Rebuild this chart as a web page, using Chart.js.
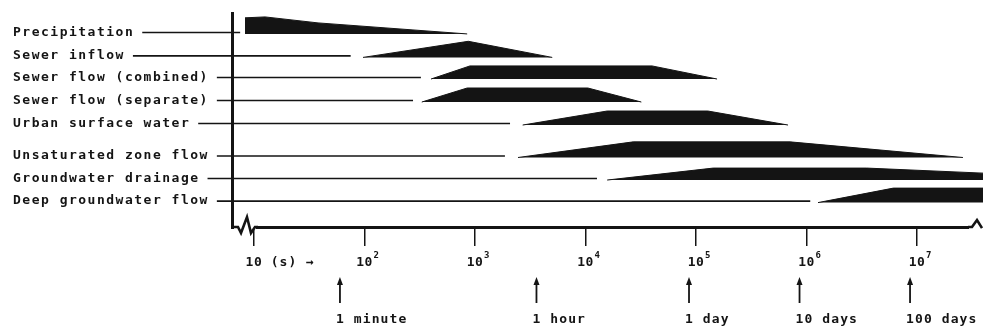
<!DOCTYPE html>
<html>
<head>
<meta charset="utf-8">
<script src="https://cdn.jsdelivr.net/npm/chart.js@4.4.0/dist/chart.umd.min.js"></script>
<style>
  html, body { margin: 0; padding: 0; background: #fff; }
</style>
</head>
<body>
<canvas id="chart" width="983" height="331"></canvas>
<script>
// hydrological processes and their time scales (seconds, log axis)
const processes = [
  'Precipitation',
  'Sewer inflow',
  'Sewer flow (combined)',
  'Sewer flow (separate)',
  'Urban surface water',
  'Unsaturated zone flow',
  'Groundwater drainage',
  'Deep groundwater flow',
];

// row position of each process (top = 0)
const rowPos = [0.91, 1.93, 2.87, 3.87, 4.87, 6.28, 7.26, 8.24];

// where the leader line from the label stops (s)
const leaderEnd = [7.5, 75, 324, 275, 2075, 1866, 12700, 1.08e6];

// outline of each band: times (s) and relative thickness
const bandTimes = [
  [8.3, 12.6, 38, 850],
  [97, 870, 5000],
  [400, 900, 40000, 155000],
  [330, 850, 10500, 32000],
  [2700, 15700, 128000, 680000],
  [2450, 27000, 710000, 2.6e7],
  [15700, 143000, 3.5e6, 4e7],
  [1.27e6, 6.1e6, 4e7],
];
const bandThickness = [
  [0.70, 0.74, 0.48, 0],
  [0, 0.70, 0],
  [0, 0.57, 0.57, 0],
  [0, 0.61, 0.61, 0],
  [0, 0.61, 0.61, 0],
  [0, 0.68, 0.68, 0],
  [0, 0.52, 0.52, 0.30],
  [0, 0.63, 0.63],
];

const decadeTicks = [1e1, 1e2, 1e3, 1e4, 1e5, 1e6, 1e7];
const decadeExp = ['', '2', '3', '4', '5', '6', '7'];

const markerSeconds = [60, 3600, 86400, 864000, 8640000];
const markerLabels = ['1 minute', '1 hour', '1 day', '10 days', '100 days'];

const INK = '#141414';
const FONT = "bold 13px 'DejaVu Sans Mono', monospace";

const datasets = processes.map((name, i) => ({
  label: name,
  data: bandTimes[i].map((t, k) => ({ x: t, y: rowPos[i] - bandThickness[i][k] })),
  borderColor: INK,
  backgroundColor: INK,
  borderWidth: 1,
  pointRadius: 0,
  tension: 0,
  fill: { value: rowPos[i] },
}));

const annotate = {
  id: 'annotate',
  afterDraw(chart) {
    const { ctx, scales: { x, y }, chartArea } = chart;
    ctx.save();
    ctx.fillStyle = INK;
    ctx.strokeStyle = INK;
    ctx.font = FONT;
    ctx.letterSpacing = '1.5px';
    ctx.textBaseline = 'middle';

    // labels with leader lines
    processes.forEach((name, i) => {
      const py = y.getPixelForValue(rowPos[i]) - 1.5;
      ctx.textAlign = 'left';
      ctx.fillText(name, 13, py);
      const w = ctx.measureText(name).width;
      ctx.lineWidth = 1.6;
      ctx.beginPath();
      ctx.moveTo(13 + w + 8, py);
      ctx.lineTo(x.getPixelForValue(leaderEnd[i]), py);
      ctx.stroke();
    });

    // axis break at the left end and caret at the right end
    const by = chartArea.bottom;
    ctx.fillStyle = '#fff';
    ctx.fillRect(234, by - 3, 22, 6);
    ctx.fillRect(969, by - 3, 14, 6);
    ctx.lineWidth = 2.6;
    ctx.lineJoin = 'miter';
    ctx.beginPath();
    ctx.moveTo(232, by);
    ctx.lineTo(238, by);
    ctx.lineTo(241, by + 6);
    ctx.lineTo(247, by - 10);
    ctx.lineTo(251, by + 6);
    ctx.lineTo(255, by);
    ctx.lineTo(258, by);
    ctx.stroke();
    ctx.beginPath();
    ctx.moveTo(968, by);
    ctx.lineTo(972, by);
    ctx.lineTo(977, by - 7);
    ctx.lineTo(982, by + 1);
    ctx.stroke();

    // decade labels
    ctx.fillStyle = INK;
    decadeTicks.forEach((v, i) => {
      const px = x.getPixelForValue(v);
      ctx.font = FONT;
      ctx.letterSpacing = '0.5px';
      ctx.textAlign = 'center';
      ctx.fillText('10', px, 263);
      if (decadeExp[i]) {
        ctx.font = "bold 9px 'DejaVu Sans Mono', monospace";
        ctx.textAlign = 'left';
        ctx.fillText(decadeExp[i], px + 9, 256);
      } else {
        ctx.textAlign = 'left';
        ctx.letterSpacing = '1px';
        ctx.fillText(' (s) \u2192', px + 8, 263);
      }
    });

    // time markers with arrows
    ctx.font = FONT;
    ctx.letterSpacing = '1.1px';
    ctx.textAlign = 'left';
    markerSeconds.forEach((s, i) => {
      const px = x.getPixelForValue(s);
      ctx.lineWidth = 1.8;
      ctx.beginPath();
      ctx.moveTo(px, 303);
      ctx.lineTo(px, 283);
      ctx.stroke();
      ctx.beginPath();
      ctx.moveTo(px, 277);
      ctx.lineTo(px - 3, 285);
      ctx.lineTo(px + 3, 285);
      ctx.closePath();
      ctx.fill();
      ctx.fillText(markerLabels[i], px - 4, 320);
    });
    ctx.restore();
  }
};

new Chart(document.getElementById('chart'), {
  type: 'line',
  data: { datasets },
  options: {
    responsive: false,
    animation: false,
    devicePixelRatio: 1,
    layout: { padding: { left: 232, right: 0, top: 13, bottom: 0 } },
    plugins: { legend: { display: false }, tooltip: { enabled: false } },
    scales: {
      x: {
        type: 'logarithmic',
        min: 6.33,
        max: 3.95e7,
        afterBuildTicks: s => { s.ticks = decadeTicks.map(v => ({ value: v })); },
        afterFit: s => { s.height = 104; },
        ticks: { display: false },
        grid: { drawOnChartArea: false, drawTicks: true, tickLength: 19, color: INK, lineWidth: 1.5 },
        border: { display: true, color: INK, width: 3 },
      },
      y: {
        type: 'linear',
        reverse: true,
        min: 0,
        max: 9.3,
        afterFit: s => { s.width = 0; },
        ticks: { display: false },
        grid: { display: false },
        border: { display: true, color: INK, width: 3 },
      },
    },
  },
  plugins: [annotate],
});
</script>
</body>
</html>
